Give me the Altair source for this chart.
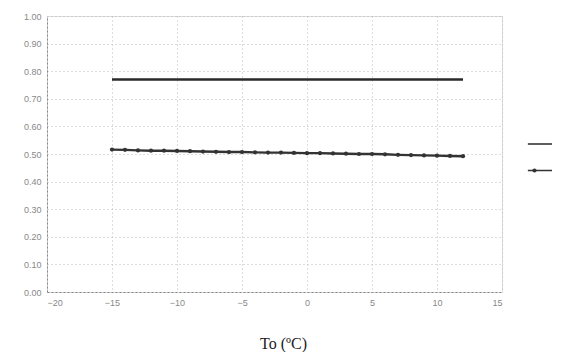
import altair as alt
import pandas as pd

temps = [-15, -14, -13, -12, -11, -10, -9, -8, -7, -6, -5, -4, -3, -2, -1,
         0, 1, 2, 3, 4, 5, 6, 7, 8, 9, 10, 11, 12]
series_a = [0.77] * 28
series_b = [0.516, 0.515, 0.513, 0.512, 0.512, 0.511, 0.510, 0.509, 0.508, 0.507,
            0.507, 0.506, 0.505, 0.505, 0.504, 0.503, 0.503, 0.502, 0.501, 0.500,
            0.500, 0.499, 0.497, 0.496, 0.495, 0.494, 0.493, 0.492]
names = ["A", "B"]
x_ticks = [-20, -15, -10, -5, 0, 5, 10, 15]
y_ticks = [0, 0.1, 0.2, 0.3, 0.4, 0.5, 0.6, 0.7, 0.8, 0.9, 1.0]

df = pd.DataFrame({
    "t": temps * 2,
    "v": series_a + series_b,
    "s": [names[0]] * len(temps) + [names[1]] * len(temps),
})
df_b = df[df["s"] == names[1]]

x = alt.X("t:Q", scale=alt.Scale(domain=[-20, 15], nice=False),
          axis=alt.Axis(values=x_ticks, title="To (ºC)",
                        titleFont="Liberation Serif", titleFontSize=16, titleFontWeight="normal",
                        titleColor="#222", titlePadding=28, titleX=236,
                        labelFont="Liberation Sans", labelFontSize=9, labelColor="#888",
                        labelPadding=6, ticks=False, labelOverlap=False,
                        domainColor="#888", domainDash=[2, 2],
                        gridColor="#bbb", gridDash=[1, 3]))
y = alt.Y("v:Q", scale=alt.Scale(domain=[0, 1], nice=False),
          axis=alt.Axis(values=y_ticks, format=".2f", title=None, labelOverlap=False,
                        labelFont="Liberation Sans", labelFontSize=9, labelColor="#888",
                        labelPadding=6, ticks=False,
                        domainColor="#888", domainDash=[2, 2],
                        gridColor="#bbb", gridDash=[1, 3]))

lines = alt.Chart(df).mark_line(strokeWidth=2.4).encode(
    x=x, y=y,
    color=alt.Color("s:N", scale=alt.Scale(domain=names, range=["#2a2a2a", "#333333"]),
                    legend=alt.Legend(orient="none", legendX=480, legendY=113, title=None,
                                      symbolType="stroke", symbolStrokeWidth=1.5,
                                      symbolSize=800, labelExpr="''", rowPadding=6.5,
                                      labelLimit=1, padding=0)),
)
points = alt.Chart(df_b).mark_point(filled=True, size=18, opacity=1).encode(
    x=x, y=y,
    shape=alt.Shape("s:N", scale=alt.Scale(domain=[names[1]], range=["circle"]),
                    legend=alt.Legend(orient="none", legendX=482.5, legendY=149.5, title=None,
                                      symbolFillColor="#555", symbolStrokeColor="#555",
                                      symbolSize=18, labelExpr="''", labelLimit=1,
                                      padding=0)),
    color=alt.value("#333333"),
)

chart = alt.layer(lines, points).properties(
    width=455, height=276,
    padding={"left": 39, "top": 8, "right": 50, "bottom": 60},
    autosize=alt.AutoSizeParams(type="none"),
).configure_view(stroke="#ccc", strokeDash=[1, 3]).configure(background="white")

chart.save("out.html", embed_options={"renderer": "svg", "actions": False})
